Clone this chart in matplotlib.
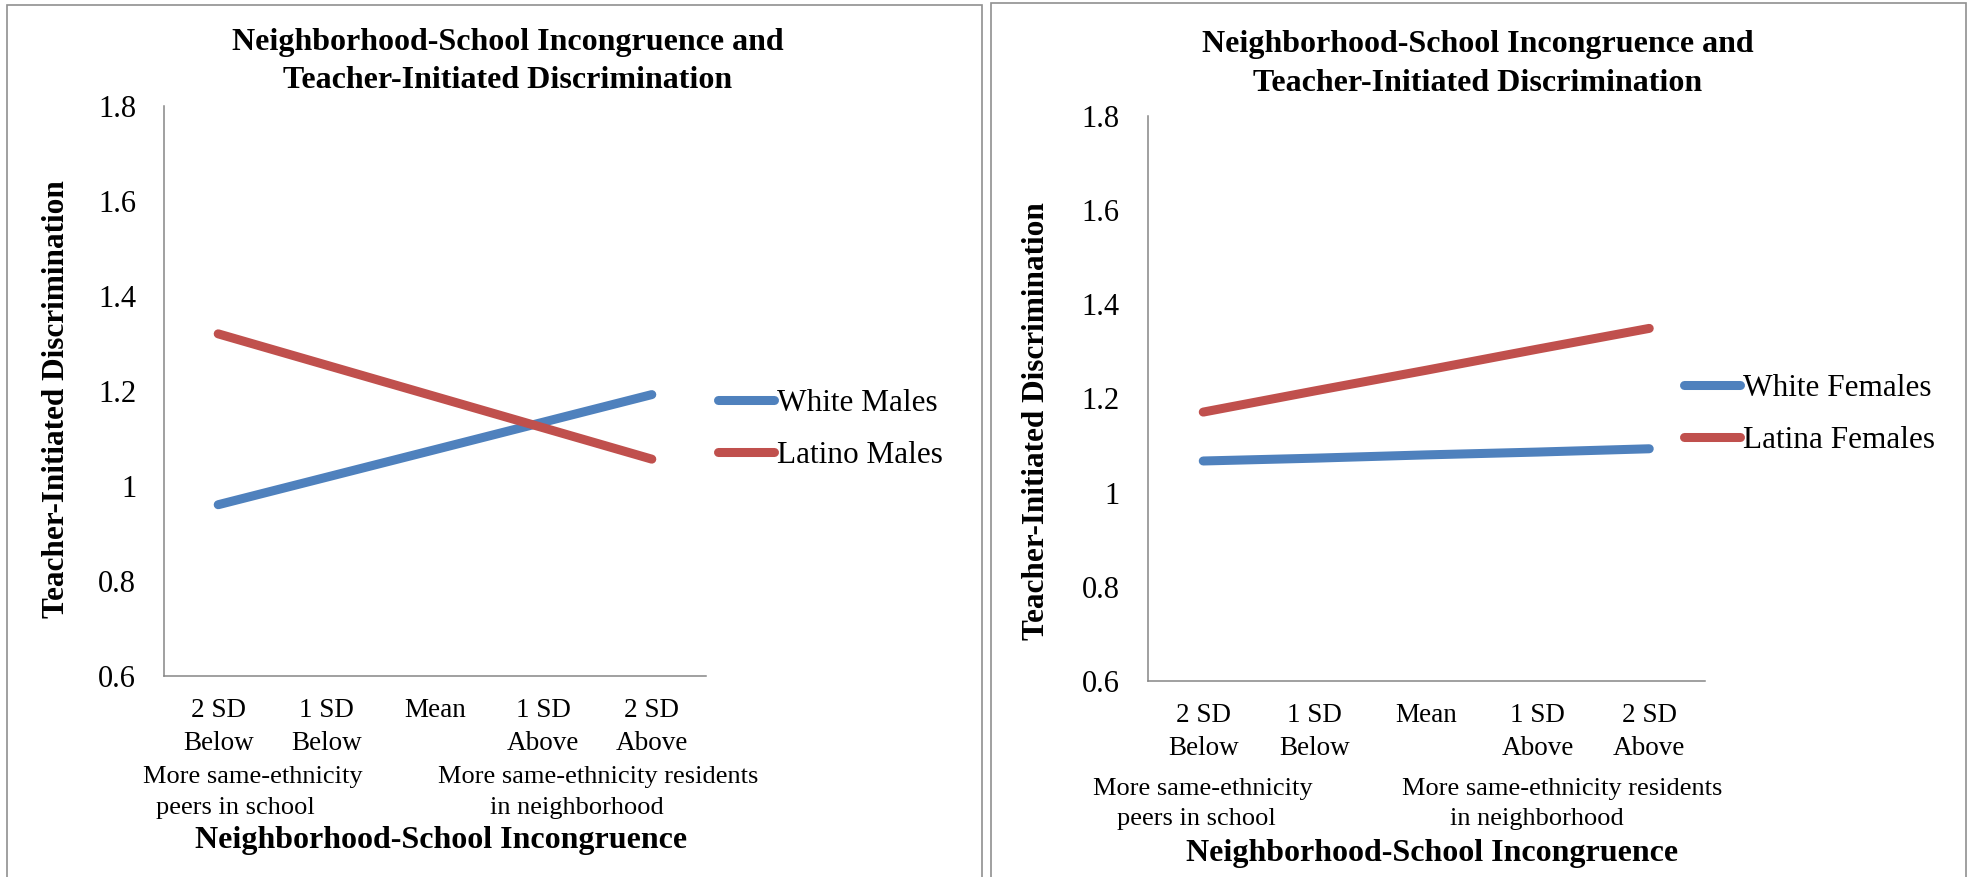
import matplotlib
matplotlib.use("Agg")
import matplotlib.pyplot as plt
import matplotlib.patches as patches
import numpy as np

plt.rcParams['font.family'] = ['Liberation Serif', 'DejaVu Serif']

# ---- data ----
categories = ["2 SD\nBelow", "1 SD\nBelow", "Mean", "1 SD\nAbove", "2 SD\nAbove"]
white_males = [0.96, 1.018, 1.076, 1.134, 1.192]
latino_males = [1.32, 1.254, 1.188, 1.122, 1.056]
white_females = [1.067, 1.073, 1.080, 1.086, 1.093]
latina_females = [1.171, 1.216, 1.260, 1.305, 1.349]
yticks = [0.6, 0.8, 1.0, 1.2, 1.4, 1.6, 1.8]

title = "Neighborhood-School Incongruence and\nTeacher-Initiated Discrimination"
ylabel = "Teacher-Initiated Discrimination"
xlabel = "Neighborhood-School Incongruence"
note_left = ["More same-ethnicity", "peers in school"]
note_right = ["More same-ethnicity residents", "in neighborhood"]

BLUE = "#4F81BD"
RED = "#C0504D"
GRID = "#868686"

W, H = 1973, 877
fig = plt.figure(figsize=(W / 100, H / 100), dpi=100)


def fx(x):
    return x / W


def fy(y):
    return 1 - y / H


def px_axes(x0, y0, x1, y1):
    # axes rectangle given in pixel corners (top-left origin)
    return fig.add_axes([fx(x0), fy(y1), fx(x1 - x0), (y1 - y0) / H])


panels = [
    dict(box=(7, 5, 982), ax=(164, 106, 706, 675.6),
         series=[("White Males", white_males, BLUE), ("Latino Males", latino_males, RED)],
         title_xy=(508, 61.5), ylab_xy=(57, 399), xlab_y=840.6,
         notes_y=(777.4, 808), notes_x=((252.8, 235.6), (598.6, 576.5)),
         leg=(1.022, 0.432)),
    dict(box=(991, 3, 1966), ax=(1147.5, 116.3, 1705, 680.6),
         series=[("White Females", white_females, BLUE), ("Latina Females", latina_females, RED)],
         title_xy=(1478, 64), ylab_xy=(1037, 421), xlab_y=854,
         notes_y=(788.6, 819), notes_x=((1203, 1196.6), (1561.7, 1537)),
         leg=(0.962, 0.472)),
]

x = np.arange(len(categories))

for p in panels:
    bx0, by0, bx1 = p["box"]
    fig.patches.append(patches.Rectangle((fx(bx0), -0.05), fx(bx1 - bx0), fy(by0) + 0.05,
                                         transform=fig.transFigure, fill=False,
                                         edgecolor="#909090", linewidth=1.2))

    ax0, ay0, ax1, ay1 = p["ax"]
    ax = px_axes(ax0, ay0, ax1, ay1)
    for name, vals, col in p["series"]:
        ax.plot(x, vals, color=col, linewidth=6.5, solid_capstyle="round", label=name)

    ax.set_xlim(-0.5, len(categories) - 0.5)
    ax.set_ylim(0.6, 1.8)
    ax.set_yticks(yticks)
    ax.set_yticklabels(["%g" % v for v in yticks], fontsize=22)
    ax.set_xticks(x)
    ax.set_xticklabels(categories, fontsize=19.5, linespacing=1.42, va="top")
    ax.tick_params(axis="both", length=0)
    ax.tick_params(axis="y", pad=20)
    ax.tick_params(axis="x", pad=16)
    for s in ["top", "right"]:
        ax.spines[s].set_visible(False)
    for s in ["left", "bottom"]:
        ax.spines[s].set_color(GRID)
        ax.spines[s].set_linewidth(1.1)

    tx, ty = p["title_xy"]
    fig.text(fx(tx), fy(ty), title, ha="center", va="center", fontsize=23,
             fontweight="bold", linespacing=1.42)
    lx, ly = p["ylab_xy"]
    fig.text(fx(lx), fy(ly), ylabel, ha="center", va="center", rotation=90,
             fontsize=22.5, fontweight="bold")

    ny0, ny1 = p["notes_y"]
    (l0, l1), (r0, r1) = p["notes_x"]
    note_lines = [note_left, note_right]
    for xs, lines in zip([(l0, l1), (r0, r1)], note_lines):
        for xx, yy, line in zip(xs, (ny0, ny1), lines):
            fig.text(fx(xx), fy(yy), line, ha="center", va="center", fontsize=19)

    fig.text(fx((ax0 + ax1) / 2 + 6), fy(p["xlab_y"]), xlabel, ha="center", va="center",
             fontsize=23, fontweight="bold")

    ax.legend(loc="center left", bbox_to_anchor=p["leg"], frameon=False, fontsize=22.5,
              handlelength=1.8, handletextpad=0.1, labelspacing=0.72,
              borderpad=0, borderaxespad=0)

fig.savefig("out.png", dpi=100)
